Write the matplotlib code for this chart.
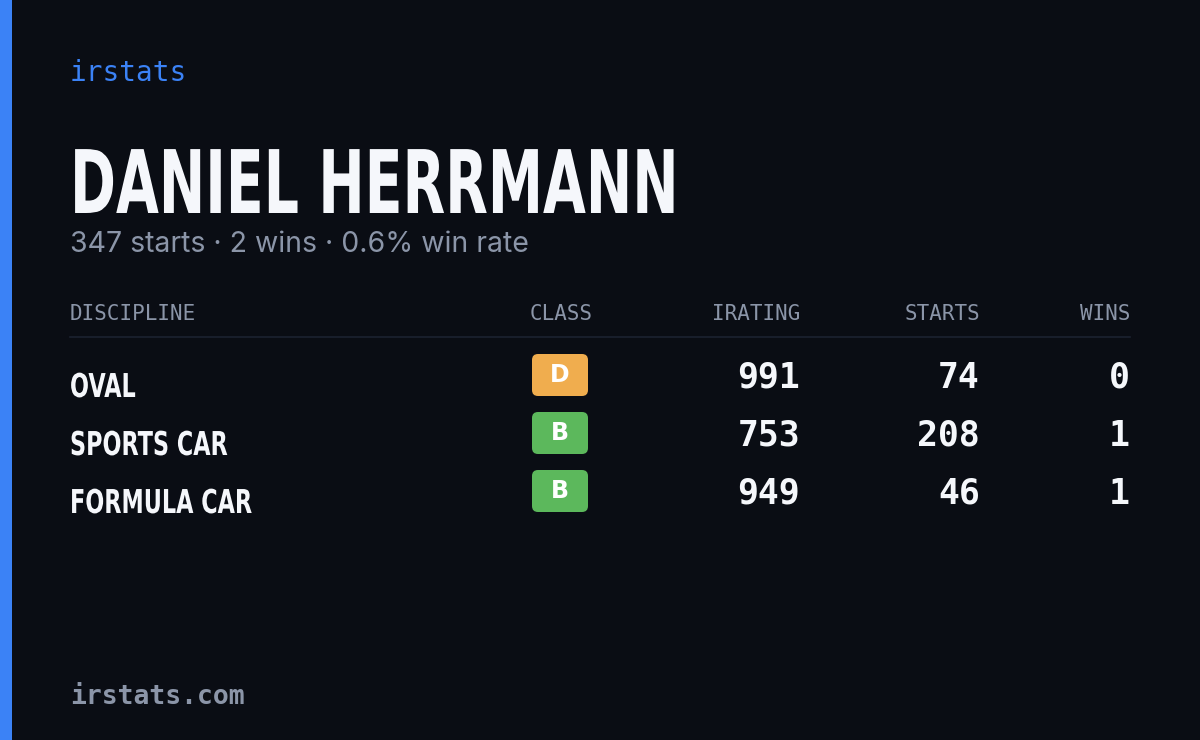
import matplotlib.pyplot as plt
from matplotlib.patches import FancyBboxPatch, Rectangle, PathPatch
from matplotlib.textpath import TextPath
from matplotlib.font_manager import FontProperties
from matplotlib.transforms import Affine2D

# data
driver = "DANIEL HERRMANN"
summary = "347 starts · 2 wins · 0.6% win rate"
headers = ["DISCIPLINE", "CLASS", "IRATING", "STARTS", "WINS"]
disciplines = ["OVAL", "SPORTS CAR", "FORMULA CAR"]
classes = ["D", "B", "B"]
iratings = [991, 753, 949]
starts = [74, 208, 46]
wins = [0, 1, 1]
class_colors = {"D": "#f0ad4e", "B": "#5cb85c"}

BG = "#0a0d14"
WHITE = "#f5f7fb"
MONO = "DejaVu Sans Mono"
BOLD = FontProperties(family="DejaVu Sans", weight="bold")


def condensed_text(ax, x, baseline, s, cap_px, xscale, color):
    """Draw bold text as a path squeezed horizontally (no condensed font installed)"""
    em = cap_px / 0.73
    tp = TextPath((0, 0), s, size=em, prop=BOLD)
    tr = Affine2D().scale(xscale, -1).translate(x, baseline)
    ax.add_patch(PathPatch(tr.transform_path(tp), color=color, lw=0))


fig = plt.figure(figsize=(12, 7.4), dpi=100, facecolor=BG)
ax = fig.add_axes([0, 0, 1, 1])
ax.set_xlim(0, 1200)
ax.set_ylim(740, 0)
ax.axis("off")
ax.set_facecolor(BG)

# left accent bar
ax.add_patch(Rectangle((0, 0), 12, 740, color="#3b82f6", lw=0))

ax.text(70, 73, "irstats", color="#3b82f6", fontsize=20, family=MONO, va="center")
condensed_text(ax, 70, 213, driver, 64, 0.632, WHITE)
ax.text(70, 245, summary, color="#8b95a8", fontsize=20.5, family="Inter", va="center")

# header row
hx = [70, 593, 800, 980, 1130]
ha = ["left", "right", "right", "right", "right"]
for x, h, a in zip(hx, headers, ha):
    ax.text(x, 314, h, color="#8b95a8", fontsize=15, family=MONO, ha=a, va="center")
ax.plot([70, 1130], [337, 337], color="#1c2230", lw=1.2)

# rows
for i, (d, c, ir, s, w) in enumerate(zip(disciplines, classes, iratings, starts, wins)):
    y = 378 + i * 58
    condensed_text(ax, 70, y + 19, d, 24, 0.68, WHITE)
    ax.add_patch(FancyBboxPatch((532, y - 24), 56, 42, boxstyle="round,pad=0,rounding_size=6",
                                color=class_colors[c], lw=0))
    ax.text(560, y - 3, c, color="white", fontsize=17, weight="bold", ha="center", va="center")
    for x, v in zip(hx[2:], [ir, s, w]):
        ax.text(x, y, str(v), color=WHITE, fontsize=25, family=MONO, weight="bold",
                ha="right", va="center")

ax.text(70, 697, "irstats.com", color="#8b95a8", fontsize=19, family=MONO, weight="bold",
        va="center")

fig.savefig("out.png", dpi=100, facecolor=BG)
